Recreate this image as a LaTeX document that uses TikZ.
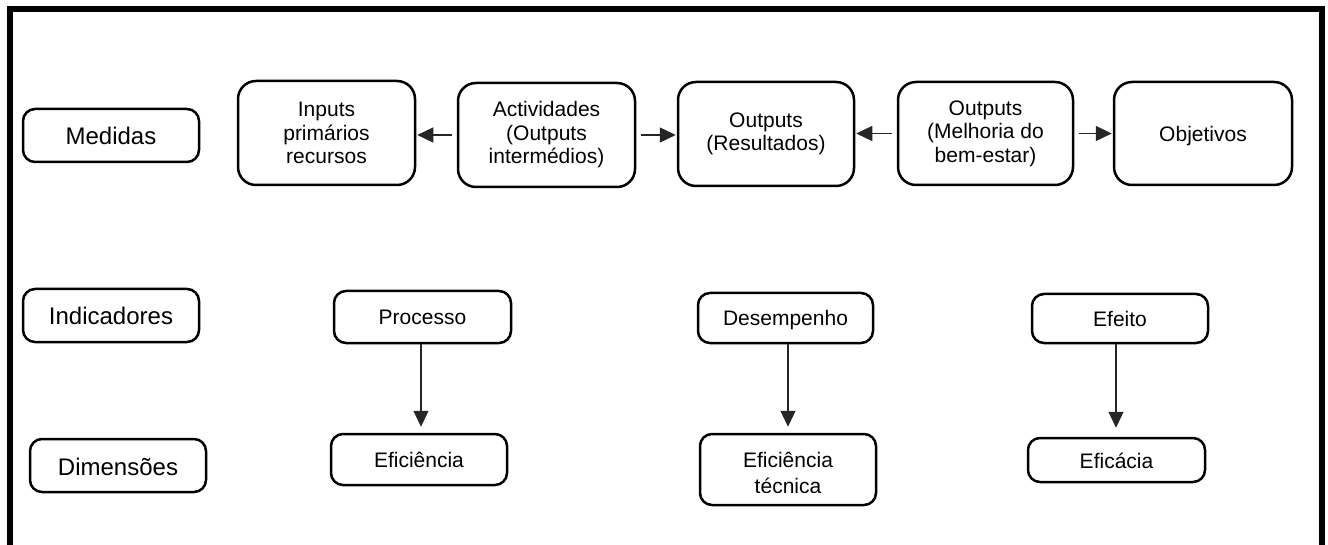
\documentclass[tikz,border=0pt]{standalone}
\usepackage{fontspec}
\setmainfont{Liberation Sans}
\usetikzlibrary{arrows.meta}
\tikzset{
  box/.style={draw=black, line width=2.5pt, rounded corners=12pt, inner sep=0pt, align=center,
    font=\fontsize{21}{23.5}\selectfont},
  one/.style={text height=16pt, text depth=0pt},
  bigbox/.style={box, rounded corners=18pt, execute at begin node={\rule{0pt}{19pt}}},
  lbl/.style={box, font=\fontsize{24}{27}\selectfont, text height=19pt, text depth=0pt},
  arr/.style={draw=black!85, line width=1.3pt, -{Triangle[length=16pt,width=15pt]}},
  txt/.style={inner sep=0pt, align=center, font=\fontsize{21}{26}\selectfont},
}
\begin{document}
\begin{tikzpicture}[x=1pt,y=-1pt]
\useasboundingbox (0,0) rectangle (1328,545);
\clip (0,0) rectangle (1328,545);
\fill[white] (0,0) rectangle (1328,545);
% outer frame
\draw[line width=6pt] (10,9) -- (1322,9);
\draw[line width=6pt] (10,6) -- (10,560);
\draw[line width=6pt] (1322,6) -- (1322,560);
% left labels
\node[lbl, minimum width=176, minimum height=53] (med) at (111,135.5) {Medidas};
\node[lbl, minimum width=176, minimum height=53] (ind) at (111,315.5) {Indicadores};
\node[lbl, minimum width=176, minimum height=53] (dim) at (118,465.5) {Dimensões};
% top row
\node[bigbox, minimum width=177, minimum height=104] (inp) at (326.5,133) {Inputs\\primários\\recursos};
\node[bigbox, minimum width=177, minimum height=104] (act) at (546.5,135) {Actividades\\(Outputs\\intermédios)};
\node[bigbox, minimum width=176, minimum height=104] (res) at (766,134) {Outputs\\(Resultados)};
\node[bigbox, minimum width=175, minimum height=103] (mel) at (985.5,133.5) {Outputs\\(Melhoria do\\bem-estar)};
\node[box, rounded corners=18pt, one, minimum width=178, minimum height=103] (obj) at (1203,133.5) {Objetivos};
\draw[arr, shorten <=5pt, shorten >=1pt] (act.west) -- (act.west -| inp.east);
\draw[arr, shorten <=5pt, shorten >=1pt] (act.east) -- (act.east -| res.west);
\draw[arr, shorten <=5pt, shorten >=1pt] (mel.west) -- (mel.west -| res.east);
\draw[arr, shorten <=5pt, shorten >=1pt] (mel.east) -- (mel.east -| obj.west);
% indicators
\node[box, one, minimum width=177, minimum height=52] (pro) at (422.5,317) {Processo};
\node[box, one, minimum width=175, minimum height=50] (des) at (785.5,318) {Desempenho};
\node[box, one, minimum width=176, minimum height=49] (efe) at (1120,318.5) {Efeito};
% dimensions
\node[box, one, minimum width=176, minimum height=51] (efi) at (419,459.5) {Eficiência};
\node[box, minimum width=176, minimum height=71] (tec) at (788,469.5) {};
\begin{scope}
\clip (700,433) rectangle (876,492.3);
\node[txt, anchor=base] (tectxt) at (788,493.5) {Eficiência\\técnica};
\end{scope}
\node[box, one, minimum width=177, minimum height=44] (efc) at (1116.5,460) {Eficácia};
\coordinate (c1) at (421,0);
\coordinate (c2) at (788,0);
\coordinate (c3) at (1116,0);
\draw[arr, shorten >=6pt] (c1 |- pro.south) -- (c1 |- efi.north);
\draw[arr, shorten >=6pt] (c2 |- des.south) -- (c2 |- tec.north);
\draw[arr, shorten >=9pt] (c3 |- efe.south) -- (c3 |- efc.north);
\end{tikzpicture}
\end{document}
